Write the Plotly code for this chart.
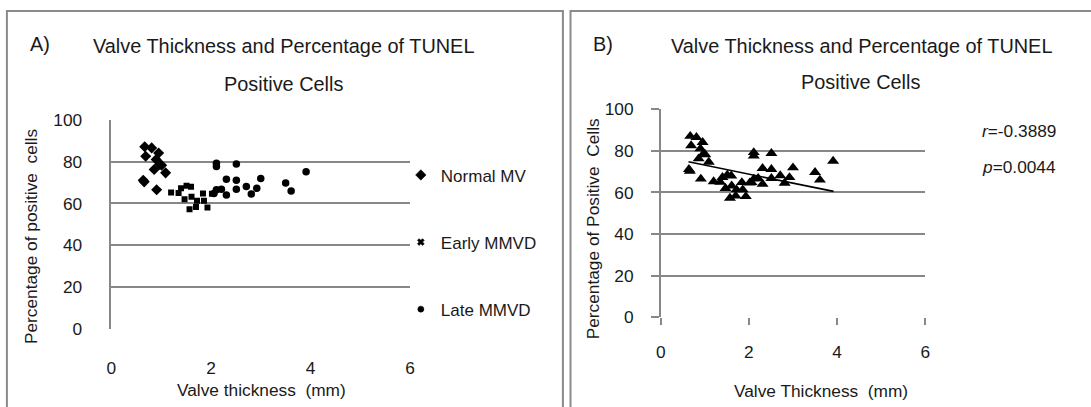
import plotly.graph_objects as go

# ---------------- data ----------------
normal_x = [0.67, 0.81, 0.69, 0.95, 0.90, 0.97, 0.86, 1.01, 1.09, 0.64, 0.66, 0.91]
normal_y = [87.0, 86.5, 82.5, 84.1, 81.0, 78.6, 76.2, 78.2, 74.6, 71.1, 70.3, 66.5]

early_x = [1.20, 1.35, 1.40, 1.51, 1.60, 1.47, 1.61, 1.72, 1.57, 1.70, 1.84, 1.86, 1.93, 2.02]
early_y = [65.2, 65.0, 67.3, 68.4, 68.0, 62.0, 63.2, 61.3, 57.3, 58.3, 64.8, 61.3, 58.1, 64.6]

late_x = [2.11, 2.11, 2.51, 2.31, 2.51, 3.00, 3.91, 3.50, 3.61, 2.71, 2.92, 2.81, 2.51, 2.31, 2.21, 2.11, 2.06]
late_y = [79.2, 77.6, 78.8, 71.6, 71.1, 71.9, 75.1, 69.7, 66.0, 68.1, 67.2, 64.5, 66.8, 64.0, 66.8, 66.5, 64.8]

trend_x = [0.63, 3.92]
trend_y = [74.7, 60.5]

x_ticks = [0, 2, 4, 6]
y_ticks = [0, 20, 40, 60, 80, 100]

group_names = ["Normal MV", "Early MMVD", "Late MMVD"]
stat_r = "-0.3889"
stat_p = "0.0044"

# ---------------- layout helpers ----------------
W, H = 1091, 407
FONT = "Liberation Sans, Arial, sans-serif"
GRID = "#878787"
TXT = "#1a1a1a"

# observed capture mapping (picture = A * page + B); positions below are picture pixels
AX, BX = 0.9887, 5.7
AY, BY = 0.952, 9.0


def sx(x):
    return (x - BX) / AX


def sy(y):
    return (y - BY) / AY


def px(x):
    return sx(x) / W


def py(y):
    return 1 - sy(y) / H


fig = go.Figure()

# Panel A data
fig.add_trace(go.Scatter(x=normal_x, y=normal_y, mode="markers", xaxis="x", yaxis="y",
                         marker=dict(symbol="diamond", size=8.5, color="black"), showlegend=False))
fig.add_trace(go.Scatter(x=early_x, y=early_y, mode="markers", xaxis="x", yaxis="y",
                         marker=dict(symbol="square", size=6, color="black"), showlegend=False))
fig.add_trace(go.Scatter(x=late_x, y=late_y, mode="markers", xaxis="x", yaxis="y",
                         marker=dict(symbol="circle", size=7.5, color="black"), showlegend=False))

# Legend entries for panel A
leg_symbols = ["diamond", "x", "circle"]
leg_sizes = [8, 6, 6]
for i, (name, sym, sz) in enumerate(zip(group_names, leg_symbols, leg_sizes)):
    fig.add_trace(go.Scatter(x=[None], y=[None], mode="markers", name=name, xaxis="x", yaxis="y",
                             legendgroup=f"g{i}",
                             marker=dict(symbol=sym, size=sz, color="black",
                                         line=dict(width=0.6, color="black"))))

# Panel B data (all samples pooled)
all_x = normal_x + early_x + late_x
all_y = normal_y + early_y + late_y
fig.add_trace(go.Scatter(x=all_x, y=all_y, mode="markers", xaxis="x2", yaxis="y2",
                         marker=dict(symbol="triangle-up", size=10.5, color="black"), showlegend=False))
fig.add_trace(go.Scatter(x=trend_x, y=trend_y, mode="lines", xaxis="x2", yaxis="y2",
                         line=dict(color="black", width=1.6), showlegend=False))

tickfont = dict(family=FONT, size=17.3, color=TXT)

fig.update_layout(
    width=W, height=H, autosize=False,
    margin=dict(l=0, r=0, t=0, b=0),
    paper_bgcolor="white", plot_bgcolor="white",
    font=dict(family=FONT, size=17, color=TXT),
    xaxis=dict(domain=[px(111.8), px(410.0)], range=[0, 6], tickvals=x_ticks,
               showgrid=False, zeroline=False, showline=False, ticks="",
               ticklabelstandoff=26, tickfont=tickfont, anchor="y"),
    yaxis=dict(domain=[py(328.7), py(118.7)], range=[0, 100], tickvals=y_ticks,
               showgrid=True, gridcolor=GRID, gridwidth=1.5, zeroline=False,
               showline=True, linecolor=GRID, linewidth=1.5, ticks="",
               ticklabelstandoff=24, tickfont=tickfont, anchor="x"),
    xaxis2=dict(domain=[px(660), px(924)], range=[0, 6], tickvals=x_ticks,
                showgrid=False, zeroline=False, showline=False,
                ticks="outside", ticklen=7, tickcolor=GRID, tickwidth=1.5,
                ticklabelstandoff=12, tickfont=tickfont, anchor="y2"),
    yaxis2=dict(domain=[py(316.7), py(108.3)], range=[0, 100], tickvals=y_ticks,
                showgrid=True, gridcolor=GRID, gridwidth=1.5, zeroline=False,
                showline=True, linecolor=GRID, linewidth=1.5,
                ticks="outside", ticklen=8, tickcolor=GRID, tickwidth=1.5,
                ticklabelstandoff=14, tickfont=tickfont, anchor="x2"),
    legend=dict(x=399.5 / W, y=1 - 155 / H, xanchor="left", yanchor="top",
                font=dict(family=FONT, size=17, color=TXT),
                tracegroupgap=42, bgcolor="rgba(0,0,0,0)", borderwidth=0),
)

# Frames
fig.add_shape(type="rect", xref="paper", yref="paper",
              x0=px(7.6), x1=px(562.4), y0=-0.1, y1=1 - 1 / H,
              line=dict(color="#8a8a8a", width=2))
fig.add_shape(type="rect", xref="paper", yref="paper",
              x0=px(570), x1=1.05, y0=-0.1, y1=1 - 1 / H,
              line=dict(color="#8a8a8a", width=2))


def ann(text, x, y, size=17.3, xanchor="center", textangle=0):
    fig.add_annotation(text=text, x=px(x), y=py(y), xref="paper", yref="paper",
                       xanchor=xanchor, yanchor="middle", showarrow=False, textangle=textangle,
                       font=dict(family=FONT, size=size, color=TXT))


# Panel A texts
ann("A)", 41, 43, size=19.9)
ann("Valve Thickness and Percentage of TUNEL", 284, 45, size=19.9)
ann("Positive Cells", 284, 83, size=19.9)
ann("Valve thickness  (mm)", 262, 389)
ann("Percentage of positive  cells", 31, 235, textangle=-90)

# Panel B texts
ann("B)", 602, 43, size=19.9)
ann("Valve Thickness and Percentage of TUNEL", 860, 45, size=19.9)
ann("Positive Cells", 859, 81, size=19.9)
ann("Valve Thickness  (mm)", 820, 390)
ann("Percentage of Positive  Cells", 592, 228, textangle=-90)
ann(f"<i>r</i>={stat_r}", 1056, 130, xanchor="right")
ann(f"<i>p</i>={stat_p}", 1056, 166, xanchor="right")

fig.write_html(
    "out.html",
    config={"displayModeBar": False},
    post_script="document.body.style.margin='0';document.body.style.overflow='hidden';",
)
